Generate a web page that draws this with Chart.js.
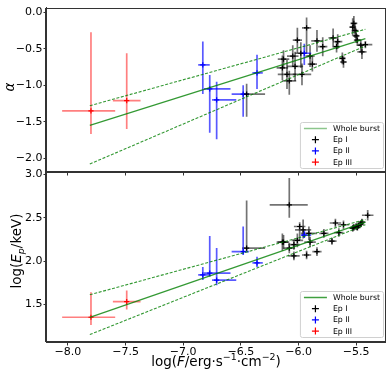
<!DOCTYPE html>
<html>
<head>
<meta charset="utf-8">
<script src="https://cdn.jsdelivr.net/npm/chart.js@4.4.0/dist/chart.umd.min.js"></script>
<style>
  body { margin: 0; background: #fff; }
  #wrap { position: relative; width: 391px; height: 374px; }
  canvas { position: absolute; left: 0; top: 0; }
</style>
</head>
<body>
<div id="wrap">
  <canvas id="bottom" width="391" height="374"></canvas>
  <canvas id="top" width="391" height="180"></canvas>
</div>
<script>
// tick values
const fluxTicks = [-8.0, -7.5, -7.0, -6.5, -6.0, -5.5];
const alphaTicks = [-2.0, -1.5, -1.0, -0.5, 0.0];
const epTicks = [1.5, 2.0, 2.5, 3.0];

const legendLabels = ["Whole burst", "Ep I", "Ep II", "Ep III"];

// Ep III (red) - errors are [lower, upper]
const ep3F = [-7.80, -7.49];
const ep3FErr = [[0.25, 0.21], [0.12, 0.12]];
const ep3Alpha = [-1.35, -1.21];
const ep3AlphaErr = [[0.32, 1.08], [0.39, 0.65]];
const ep3Ep = [1.35, 1.53];
const ep3EpErr = [[0.09, 0.29], [0.09, 0.13]];

// Ep II (blue)
const ep2F = [-6.83, -6.77, -6.71, -6.48, -6.36, -5.95];
const ep2FErr = [[0.04, 0.06], [0.05, 0.18], [0.04, 0.17], [0.10, 0.05], [0.04, 0.05], [0.03, 0.06]];
const ep2Alpha = [-0.72, -1.05, -1.20, -1.12, -0.83, -0.56];
const ep2AlphaErr = [[0.40, 0.32], [0.60, 0.19], [0.54, 0.25], [0.31, 0.12], [0.22, 0.25], [0.16, 0.13]];
const ep2Ep = [1.84, 1.86, 1.78, 2.11, 1.98, 2.30];
const ep2EpErr = [[0.06, 0.09], [0.04, 0.43], [0.06, 0.37], [0.04, 0.29], [0.05, 0.07], [0.03, 0.05]];

// Ep I (black), alpha panel
const ep1AlphaF = [-6.45, -6.14, -6.13, -6.10, -6.08, -6.05, -6.03, -6.01, -5.98, -5.97,
  -5.93, -5.90, -5.88, -5.84, -5.79, -5.70, -5.67, -5.66, -5.62, -5.61,
  -5.53, -5.52, -5.51, -5.50, -5.49, -5.46, -5.45, -5.42];
const ep1AlphaFErr = [[0.04, 0.16], 0.05, 0.05, 0.08, 0.06, 0.05, 0.07, 0.04, 0.05, 0.08,
  0.04, 0.04, 0.04, 0.05, 0.04, 0.04, 0.03, 0.04, 0.03, 0.03,
  0.03, 0.03, 0.03, 0.03, 0.03, 0.03, 0.04, 0.06];
const ep1Alpha = [-1.12, -0.76, -0.64, -0.85, -0.94, -0.60, -0.74, -0.38, -0.56, -0.85,
  -0.21, -0.60, -0.71, -0.39, -0.47, -0.35, -0.47, -0.40, -0.63, -0.68,
  -0.20, -0.15, -0.25, -0.32, -0.38, -0.45, -0.54, -0.44];
const ep1AlphaErr = [[0.31, 0.14], 0.17, 0.12, 0.2, [0.19, 0.14], 0.15, 0.2, [0.18, 0.17], [0.2, 0.15], 0.15,
  [0.35, 0.14], 0.15, 0.1, 0.15, 0.13, 0.13, 0.08, 0.1, 0.08, 0.08,
  0.12, 0.1, 0.1, 0.1, 0.08, 0.08, 0.1, 0.05];

// Ep I (black), Ep panel
const ep1EpF = [-6.45, -6.14, -6.13, -6.08, -6.08, -6.04, -6.04, -6.01, -5.99, -5.96,
  -5.93, -5.91, -5.90, -5.84, -5.78, -5.71, -5.68, -5.65, -5.61, -5.53,
  -5.52, -5.50, -5.49, -5.48, -5.46, -5.45, -5.40];
const ep1EpFErr = [[0.04, 0.16], 0.05, 0.05, 0.05, [0.17, 0.16], 0.05, 0.05, 0.05, 0.05, 0.07,
  0.04, 0.07, 0.05, 0.04, 0.04, 0.04, 0.05, 0.04, 0.05, 0.03,
  0.03, 0.03, 0.03, 0.03, 0.03, 0.03, 0.05];
const ep1Ep = [2.15, 2.22, 2.22, 2.15, 2.65, 2.19, 2.06, 2.24, 2.40, 2.36,
  2.07, 2.32, 2.22, 2.11, 2.32, 2.23, 2.44, 2.33, 2.42, 2.38,
  2.39, 2.40, 2.39, 2.41, 2.43, 2.45, 2.53];
const ep1EpErr = [[0.03, 0.55], 0.1, 0.08, 0.06, [0.15, 0.31], 0.06, 0.05, 0.08, [0.16, 0.05], [0.1, 0.12],
  0.05, 0.08, 0.06, 0.05, 0.05, 0.04, 0.05, 0.05, 0.05, 0.04,
  0.04, 0.04, 0.04, 0.04, 0.04, 0.04, 0.06];

// whole burst fit and its bounds
const fitF = [-7.81, -5.42];
const alphaFit = [-1.55, -0.36];
const alphaFitUp = [-1.28, -0.23];
const alphaFitLow = [-2.08, -0.46];
const epFit = [1.35, 2.45];
const epFitUp = [1.61, 2.48];
const epFitLow = [1.15, 2.42];

const FONT = "'DejaVu Sans', sans-serif";

function lohi(e) {
  return Array.isArray(e) ? e : [e, e];
}

function errPoints(F, FErr, V, VErr) {
  return F.map((f, i) => {
    const fe = lohi(FErr[i]);
    const ve = lohi(VErr[i]);
    return { x: f, y: V[i], xMin: f - fe[0], xMax: f + fe[1], yMin: V[i] - ve[0], yMax: V[i] + ve[1] };
  });
}

function linePoints(F, V) {
  return F.map((f, i) => ({ x: f, y: V[i] }));
}

function fmt(v) {
  const s = Math.abs(v).toFixed(1);
  return v < -1e-9 ? "\u2212" + s : s;
}

// draw error bars under the markers
const errorBars = {
  id: "errorBars",
  beforeDatasetsDraw(chart) {
    const ctx = chart.ctx;
    const xs = chart.scales.x;
    const ys = chart.scales.y;
    const a = chart.chartArea;
    ctx.save();
    ctx.beginPath();
    ctx.rect(a.left, a.top, a.right - a.left, a.bottom - a.top);
    ctx.clip();
    chart.data.datasets.forEach(ds => {
      if (!ds.errColor) return;
      ctx.strokeStyle = ds.errColor;
      ctx.lineWidth = 1.7;
      ds.data.forEach(p => {
        const x = xs.getPixelForValue(p.x);
        const y = ys.getPixelForValue(p.y);
        ctx.beginPath();
        ctx.moveTo(xs.getPixelForValue(p.xMin), y);
        ctx.lineTo(xs.getPixelForValue(p.xMax), y);
        ctx.moveTo(x, ys.getPixelForValue(p.yMin));
        ctx.lineTo(x, ys.getPixelForValue(p.yMax));
        ctx.stroke();
      });
    });
    ctx.restore();
  }
};

// box around the plot area
const frame = {
  id: "frame",
  afterDraw(chart) {
    const a = chart.chartArea;
    const ctx = chart.ctx;
    ctx.save();
    ctx.strokeStyle = "#333";
    ctx.lineWidth = 1;
    ctx.strokeRect(Math.round(a.left) - 0.5, Math.round(a.top) + 0.5,
      Math.round(a.right - a.left) + 1, Math.round(a.bottom - a.top) - 1);
    ctx.restore();
  }
};

// legend in the lower right corner
const boxLegend = {
  id: "boxLegend",
  afterDraw(chart, args, opts) {
    const ctx = chart.ctx;
    const a = chart.chartArea;
    ctx.save();
    ctx.font = "7.8px " + FONT;
    const w = 33 + ctx.measureText(legendLabels[0]).width + 3;
    const h = 46;
    const bx = a.right - 2 - w;
    const by = a.bottom - opts.gap - h;
    ctx.fillStyle = "rgba(255,255,255,0.85)";
    ctx.strokeStyle = "#d0d0d0";
    ctx.lineWidth = 1;
    ctx.beginPath();
    ctx.roundRect(bx + 0.5, by + 0.5, w, h, 2);
    ctx.fill();
    ctx.stroke();
    const colors = ["#000", "#0000ff", "#ff0000"];
    for (let i = 0; i < legendLabels.length; i++) {
      const cy = by + 6.5 + i * 11.2;
      if (i === 0) {
        ctx.strokeStyle = opts.lineColor;
        ctx.lineWidth = 1.5;
        ctx.beginPath();
        ctx.moveTo(bx + 4, cy);
        ctx.lineTo(bx + 27, cy);
        ctx.stroke();
      } else {
        ctx.strokeStyle = colors[i - 1];
        ctx.lineWidth = 1.2;
        ctx.beginPath();
        ctx.moveTo(bx + 12, cy);
        ctx.lineTo(bx + 19, cy);
        ctx.moveTo(bx + 15.5, cy - 3.5);
        ctx.lineTo(bx + 15.5, cy + 3.5);
        ctx.stroke();
      }
      ctx.fillStyle = "#000";
      ctx.textBaseline = "middle";
      ctx.fillText(legendLabels[i], bx + 33, cy + 0.5);
    }
    ctx.restore();
  }
};

// text made of runs: normal, italic, sub/superscript
function drawRuns(ctx, runs, size, cx, cy, rotate) {
  ctx.save();
  ctx.translate(cx, cy);
  if (rotate) ctx.rotate(-Math.PI / 2);
  let total = 0;
  runs.forEach(r => {
    const s = r.script ? size * 0.7 : size;
    ctx.font = (r.italic ? "italic " : "") + s + "px " + FONT;
    r.w = ctx.measureText(r.t).width;
    r.s = s;
    total += r.w;
  });
  let x = -total / 2;
  ctx.fillStyle = "#000";
  ctx.textBaseline = "alphabetic";
  runs.forEach(r => {
    ctx.font = (r.italic ? "italic " : "") + r.s + "px " + FONT;
    let dy = 0;
    if (r.script === "sup") dy = -size * 0.42;
    if (r.script === "sub") dy = size * 0.2;
    ctx.fillText(r.t, x, dy);
    x += r.w;
  });
  ctx.restore();
}

const axisTitles = {
  id: "axisTitles",
  afterDraw(chart, args, opts) {
    const ctx = chart.ctx;
    if (opts.panel === "top") {
      drawRuns(ctx, [{ t: "\u03b1", italic: true }], 13.5, 14, 87, true);
    } else {
      drawRuns(ctx, [
        { t: "log(" }, { t: "E", italic: true }, { t: "p", italic: true, script: "sub" }, { t: "/keV)" }
      ], 13.5, 21, 251, true);
      drawRuns(ctx, [
        { t: "log(" }, { t: "F", italic: true }, { t: "/erg\u00b7s" }, { t: "\u22121", script: "sup" },
        { t: "\u00b7cm" }, { t: "\u22122", script: "sup" }, { t: ")" }
      ], 13.5, 216, 366, false);
    }
  }
};

function fitSets(V, Up, Low) {
  const base = { showLine: true, pointRadius: 0, borderColor: "rgba(0,128,0,0.8)", order: 0, fill: false };
  return [
    Object.assign({}, base, { data: linePoints(fitF, V), borderWidth: 1.3 }),
    Object.assign({}, base, { data: linePoints(fitF, Up), borderWidth: 1.1, borderDash: [3, 1.6] }),
    Object.assign({}, base, { data: linePoints(fitF, Low), borderWidth: 1.1, borderDash: [3, 1.6] })
  ];
}

function markerSet(data, color, errColor) {
  return {
    data: data, errColor: errColor, showLine: false, order: 1,
    pointStyle: "cross", pointRadius: 2.6, borderWidth: 1.2,
    borderColor: color, backgroundColor: color
  };
}

function xScale(showLabels, height) {
  return {
    type: "linear", min: -8.19, max: -5.25,
    afterBuildTicks: s => { s.ticks = fluxTicks.map(v => ({ value: v })); },
    afterFit: s => { s.height = height; },
    ticks: { display: showLabels, autoSkip: false, maxRotation: 0, padding: 0,
      color: "#000", font: { family: FONT, size: 11 }, callback: v => fmt(v) },
    grid: { drawOnChartArea: false, drawTicks: true, tickLength: 3.5, color: "#333" },
    border: { display: true, color: "#333" }
  };
}

function yScale(min, max, tickVals) {
  return {
    type: "linear", min: min, max: max,
    afterBuildTicks: s => { s.ticks = tickVals.map(v => ({ value: v })); },
    afterFit: s => { s.width = 46; },
    ticks: { autoSkip: false, padding: 1, color: "#000", font: { family: FONT, size: 11 }, callback: v => fmt(v) },
    grid: { drawOnChartArea: false, drawTicks: true, tickLength: 2.5, color: "#333" },
    border: { display: true, color: "#333" }
  };
}

Chart.defaults.font.family = FONT;

new Chart(document.getElementById("top"), {
  type: "scatter",
  data: {
    datasets: fitSets(alphaFit, alphaFitUp, alphaFitLow).concat([
      markerSet(errPoints(ep1AlphaF, ep1AlphaFErr, ep1Alpha, ep1AlphaErr), "#000", "rgba(0,0,0,0.55)"),
      markerSet(errPoints(ep2F, ep2FErr, ep2Alpha, ep2AlphaErr), "#0000ff", "rgba(0,0,255,0.65)"),
      markerSet(errPoints(ep3F, ep3FErr, ep3Alpha, ep3AlphaErr), "#ff0000", "rgba(255,0,0,0.5)")
    ])
  },
  options: {
    responsive: false, animation: false,
    layout: { padding: { top: 3, right: 6, left: 0, bottom: 0 } },
    scales: { x: xScale(false, 8), y: yScale(-2.19, 0.067, alphaTicks) },
    plugins: {
      legend: { display: false }, tooltip: { enabled: false },
      boxLegend: { gap: 4, lineColor: "rgba(0,128,0,0.45)" },
      axisTitles: { panel: "top" }
    }
  },
  plugins: [errorBars, frame, boxLegend, axisTitles]
});

new Chart(document.getElementById("bottom"), {
  type: "scatter",
  data: {
    datasets: fitSets(epFit, epFitUp, epFitLow).concat([
      markerSet(errPoints(ep1EpF, ep1EpFErr, ep1Ep, ep1EpErr), "#000", "rgba(0,0,0,0.55)"),
      markerSet(errPoints(ep2F, ep2FErr, ep2Ep, ep2EpErr), "#0000ff", "rgba(0,0,255,0.65)"),
      markerSet(errPoints(ep3F, ep3FErr, ep3Ep, ep3EpErr), "#ff0000", "rgba(255,0,0,0.5)")
    ])
  },
  options: {
    responsive: false, animation: false,
    layout: { padding: { top: 172, right: 6, left: 0, bottom: 0 } },
    scales: { x: xScale(true, 32), y: yScale(1.064, 3.03, epTicks) },
    plugins: {
      legend: { display: false }, tooltip: { enabled: false },
      boxLegend: { gap: 5, lineColor: "rgba(0,128,0,0.75)" },
      axisTitles: { panel: "bottom" }
    }
  },
  plugins: [errorBars, frame, boxLegend, axisTitles]
});
</script>
</body>
</html>
